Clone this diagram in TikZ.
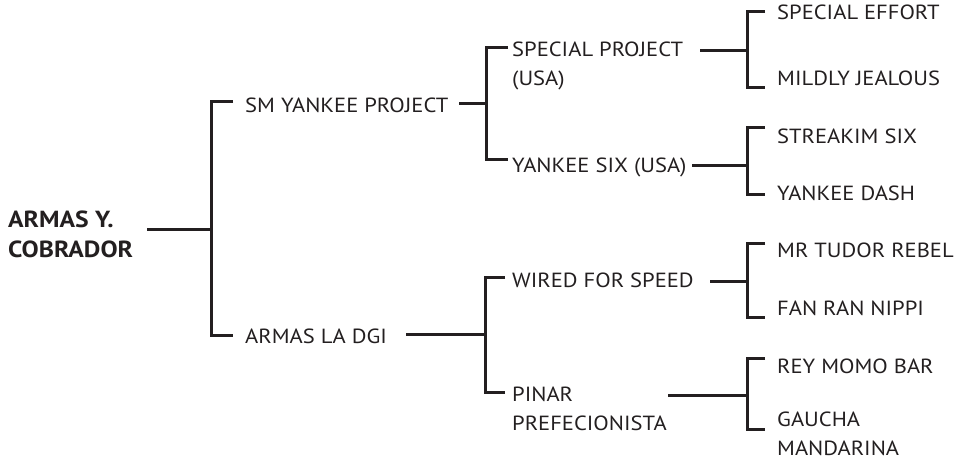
\documentclass[tikz,border=0pt]{standalone}
\usepackage{fontspec}
\setmainfont[FakeStretch=1.1]{PT Sans}
\definecolor{ink}{HTML}{231F20}
\begin{document}
\begin{tikzpicture}[x=1pt,y=-1pt,
  txt/.style={anchor=base west, inner sep=0pt, text=ink, font=\fontsize{20.5}{28.5}\selectfont, align=left},
  rtxt/.style={txt, font=\bfseries\fontsize{23.3}{30}\selectfont},
  link/.style={draw=ink, line width=3pt}]
\useasboundingbox (0,0) rectangle (954,460);
% texts
\node[rtxt] (root) at (8,257) {ARMAS Y.\\COBRADOR};
\node[txt] (smyp) at (245,113) {SM YANKEE PROJECT};
\node[txt] (adgi) at (245,343) {ARMAS LA DGI};
\node[txt] (spp) at (512,85) {SPECIAL PROJECT\\(USA)};
\node[txt] (ys) at (512,172) {YANKEE SIX (USA)};
\node[txt] (wfs) at (512,287) {WIRED FOR SPEED};
\node[txt] (pp) at (512,430) {PINAR\\PREFECIONISTA};
\node[txt] (se) at (777,20) {SPECIAL EFFORT};
\node[txt] (mj) at (777,85) {MILDLY JEALOUS};
\node[txt] (ss) at (777,143) {STREAKIM SIX};
\node[txt] (yd) at (777,200) {YANKEE DASH};
\node[txt] (mtr) at (777,257) {MR TUDOR REBEL};
\node[txt] (frn) at (777,315) {FAN RAN NIPPI};
\node[txt] (rmb) at (777,373) {REY MOMO BAR};
\node[txt] (gm) at (777,455) {GAUCHA\\MANDARINA};
% junctions
\coordinate (j0) at (211,229);
\coordinate (j0a) at (233,102);
\coordinate (j0b) at (233,335);
\coordinate (j1) at (486,104);
\coordinate (j1a) at (508,48);
\coordinate (j1b) at (508,159);
\coordinate (j2) at (485,334);
\coordinate (j2a) at (505,277);
\coordinate (j2b) at (505,392);
\coordinate (k1) at (747,51);
\coordinate (k1a) at (765,12);
\coordinate (k1b) at (765,88);
\coordinate (k2) at (747,165);
\coordinate (k2a) at (765,127);
\coordinate (k2b) at (765,194);
\coordinate (k3) at (747,281);
\coordinate (k3a) at (765,243);
\coordinate (k3b) at (765,317);
\coordinate (k4) at (747,395);
\coordinate (k4a) at (765,358);
\coordinate (k4b) at (765,429);
% connectors
\draw[link] (147,0 |- j0) -- (j0);
\draw[link] (j0a) -| (j0) |- (j0b);
\draw[link] (459,0 |- j1) -- (j1);
\draw[link] (j1a) -| (j1) |- (j1b);
\draw[link] (406,0 |- j2) -- (j2);
\draw[link] (j2a) -| (j2) |- (j2b);
\draw[link] (700,0 |- k1) -- (k1);
\draw[link] (k1a) -| (k1) |- (k1b);
\draw[link] (692,0 |- k2) -- (k2);
\draw[link] (k2a) -| (k2) |- (k2b);
\draw[link] (710,0 |- k3) -- (k3);
\draw[link] (k3a) -| (k3) |- (k3b);
\draw[link] (668,0 |- k4) -- (k4);
\draw[link] (k4a) -| (k4) |- (k4b);
\end{tikzpicture}
\end{document}
